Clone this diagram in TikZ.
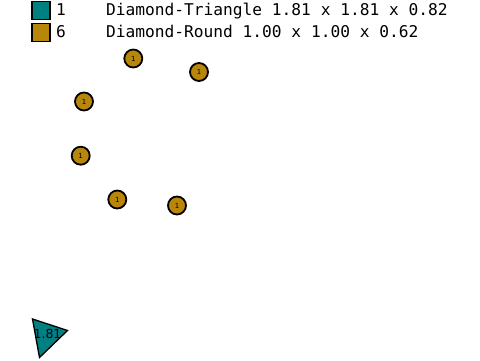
\documentclass[tikz,border=0pt]{standalone}
\usepackage{fontspec}
\setmainfont{DejaVu Sans}
\setmonofont{DejaVu Sans Mono}
\usetikzlibrary{positioning}

\definecolor{tealfill}{RGB}{0,128,128}
\definecolor{goldfill}{RGB}{184,134,11}

\begin{document}
\begin{tikzpicture}[
        x=1pt, y=-1pt,
        keybox/.style={rectangle, draw=black, line width=1.8pt, minimum size=18pt, inner sep=0pt},
        keytext/.style={anchor=base west, inner sep=0pt, font=\ttfamily\fontsize{16.2}{16.2}\selectfont},
        roundpiece/.style={circle, draw=black, line width=1.8pt, fill=goldfill, minimum size=18pt, inner sep=0pt, font=\fontsize{7}{7}\selectfont},
        tripiece/.style={draw=black, line width=1.3pt, fill=tealfill, line join=miter},
    ]
        \useasboundingbox (0,0) rectangle (480,360);

        % Legend
        \node[keybox, fill=tealfill] (keytri) at (41,10.5) {};
        \node[keybox, fill=goldfill] (keyround) at (41,32.5) {};
        \node[keytext] (numtri) at (56,15) {1};
        \node[keytext] (numround) at (56,37) {6};
        \node[keytext] (texttri) at (106,15) {Diamond-Triangle 1.81 x 1.81 x 0.82};
        \node[keytext] (textround) at (106,37) {Diamond-Round 1.00 x 1.00 x 0.62};

        % Round pieces
        \node[roundpiece] (r1) at (133.3,58.5) {1};
        \node[roundpiece] (r2) at (199,72) {1};
        \node[roundpiece] (r3) at (84,101.5) {1};
        \node[roundpiece] (r4) at (80.7,155.7) {1};
        \node[roundpiece] (r5) at (117.3,199.5) {1};
        \node[roundpiece] (r6) at (177,205.5) {1};

        % Triangle piece
        \coordinate (ta) at (32.5,319);
        \coordinate (tb) at (67.5,330.5);
        \coordinate (tc) at (39.5,357.5);
        \draw[tripiece] (ta) -- (tb) -- (tc) -- cycle;
        \node[font=\fontsize{12.5}{12.5}\selectfont, text=black!85!blue, inner sep=0pt] (tlabel) at (47.5,333.5) {1.81};
    \end{tikzpicture}
\end{document}
